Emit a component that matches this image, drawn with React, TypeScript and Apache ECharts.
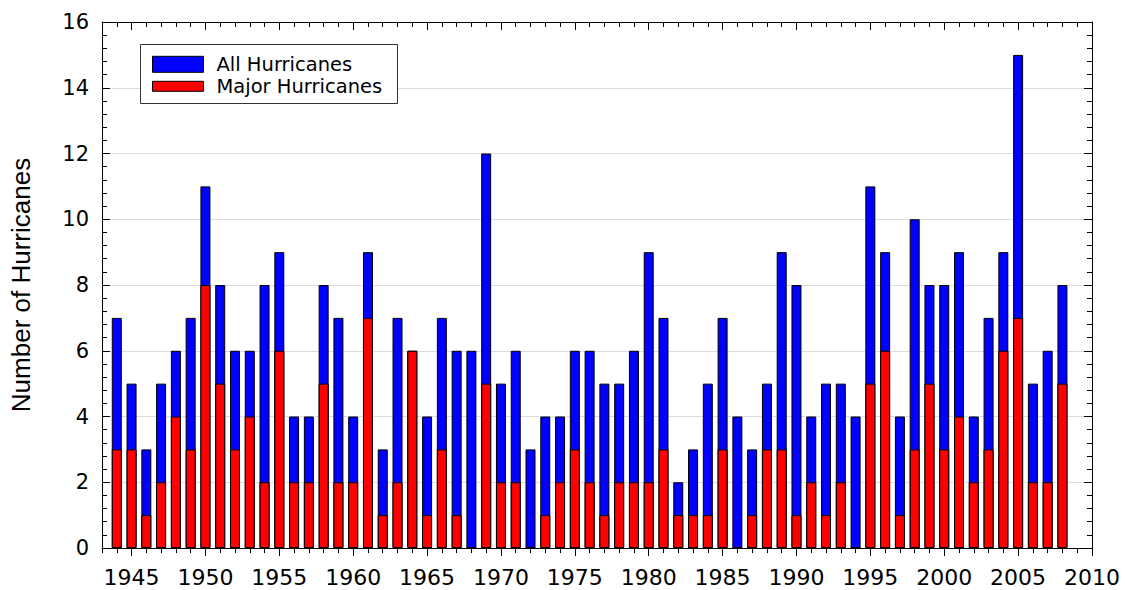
import React, { useEffect, useRef } from "react";
import * as echarts from "echarts";

const years: number[] = [
  1944, 1945, 1946, 1947, 1948, 1949, 1950, 1951, 1952, 1953, 1954, 1955, 1956,
  1957, 1958, 1959, 1960, 1961, 1962, 1963, 1964, 1965, 1966, 1967, 1968, 1969,
  1970, 1971, 1972, 1973, 1974, 1975, 1976, 1977, 1978, 1979, 1980, 1981, 1982,
  1983, 1984, 1985, 1986, 1987, 1988, 1989, 1990, 1991, 1992, 1993, 1994, 1995,
  1996, 1997, 1998, 1999, 2000, 2001, 2002, 2003, 2004, 2005, 2006, 2007, 2008,
];

const allHurricanes: number[] = [
  7, 5, 3, 5, 6, 7, 11, 8, 6, 6, 8, 9, 4,
  4, 8, 7, 4, 9, 3, 7, 6, 4, 7, 6, 6, 12,
  5, 6, 3, 4, 4, 6, 6, 5, 5, 6, 9, 7, 2,
  3, 5, 7, 4, 3, 5, 9, 8, 4, 5, 5, 4, 11,
  9, 4, 10, 8, 8, 9, 4, 7, 9, 15, 5, 6, 8,
];

const majorHurricanes: number[] = [
  3, 3, 1, 2, 4, 3, 8, 5, 3, 4, 2, 6, 2,
  2, 5, 2, 2, 7, 1, 2, 6, 1, 3, 1, 0, 5,
  2, 2, 0, 1, 2, 3, 2, 1, 2, 2, 2, 3, 1,
  1, 1, 3, 0, 1, 3, 3, 1, 2, 1, 2, 0, 5,
  6, 1, 3, 5, 3, 4, 2, 3, 6, 7, 2, 2, 5,
];

const seriesNames: string[] = ["All Hurricanes", "Major Hurricanes"];
const yTitle = "Number of Hurricanes";

export default function App() {
  const ref = useRef<HTMLDivElement>(null);

  useEffect(() => {
    if (!ref.current) return;
    const chart = echarts.init(ref.current, undefined, { renderer: "svg" });

    const labelFont = "DejaVu Sans";
    const xBase = {
      type: "value" as const,
      min: 1943,
      max: 2010,
      splitLine: { show: false },
    };
    const legendText = {
      fontFamily: labelFont,
      fontSize: 19.5,
      lineHeight: 16,
      color: "#000000",
      padding: [0, 0, 0, 8],
    };
    const legendBase = {
      orient: "vertical" as const,
      left: 152,
      padding: 0,
      itemWidth: 51,
      selectedMode: false,
      z: 6,
      textStyle: legendText,
      itemStyle: { borderColor: "#000000", borderWidth: 1 },
    };

    chart.setOption({
      animation: false,
      backgroundColor: "#ffffff",
      grid: { left: 100, right: 33, top: 22, bottom: 42 },
      graphic: [
        {
          type: "rect",
          z: 5,
          shape: { x: 140.5, y: 44.5, width: 257, height: 59 },
          style: { fill: "#ffffff", stroke: "#333333", lineWidth: 1 },
        },
      ],
      legend: [
        {
          ...legendBase,
          top: 54.3,
          itemHeight: 16,
          data: [{ name: seriesNames[0], icon: "rect" }],
        },
        {
          ...legendBase,
          top: 76.3,
          itemHeight: 10,
          data: [{ name: seriesNames[1], icon: "rect" }],
        },
      ],
      xAxis: [
        {
          ...xBase,
          position: "bottom",
          splitNumber: 13,
          axisLine: { show: true, lineStyle: { color: "#000000", width: 1 } },
          axisTick: { show: true, inside: false, length: 8, lineStyle: { color: "#000000" } },
          axisLabel: {
            show: true,
            showMinLabel: false,
            margin: 18,
            fontFamily: labelFont,
            fontSize: 22,
            color: "#000000",
            formatter: (v: number) => String(v),
          },
        },
        {
          ...xBase,
          position: "bottom",
          interval: 1,
          axisLine: { show: false },
          axisTick: { show: true, inside: false, length: 5, lineStyle: { color: "#000000" } },
          axisLabel: { show: false },
        },
        {
          ...xBase,
          position: "top",
          splitNumber: 13,
          axisLine: { show: true, lineStyle: { color: "#000000", width: 1 } },
          axisTick: { show: true, inside: true, length: 8, lineStyle: { color: "#000000" } },
          axisLabel: { show: false },
        },
        {
          ...xBase,
          position: "top",
          interval: 1,
          axisLine: { show: false },
          axisTick: { show: true, inside: true, length: 5, lineStyle: { color: "#000000" } },
          axisLabel: { show: false },
        },
      ],
      yAxis: [
        {
          type: "value",
          position: "left",
          min: 0,
          max: 16,
          interval: 2,
          name: yTitle,
          nameLocation: "middle",
          nameGap: 68,
          nameTextStyle: {
            fontFamily: "Liberation Sans",
            fontSize: 26,
            color: "#000000",
          },
          axisLine: { show: true, lineStyle: { color: "#000000", width: 1 } },
          axisTick: { show: true, inside: true, length: 8, lineStyle: { color: "#000000" } },
          minorTick: { show: true, splitNumber: 5, length: 5, lineStyle: { color: "#000000" } },
          splitLine: { show: true, lineStyle: { color: "#dcdcdc", width: 1 } },
          axisLabel: {
            margin: 13,
            fontFamily: labelFont,
            fontSize: 21,
            color: "#000000",
          },
        },
        {
          type: "value",
          position: "right",
          min: 0,
          max: 16,
          interval: 2,
          axisLine: { show: true, lineStyle: { color: "#000000", width: 1 } },
          axisTick: { show: true, inside: true, length: 8, lineStyle: { color: "#000000" } },
          minorTick: { show: true, splitNumber: 5, length: 5, lineStyle: { color: "#000000" } },
          splitLine: { show: false },
          axisLabel: { show: false },
        },
      ],
      series: [
        {
          name: seriesNames[0],
          type: "bar",
          xAxisIndex: 0,
          yAxisIndex: 0,
          barWidth: 10,
          barGap: "-100%",
          itemStyle: { color: "#0000ff", borderColor: "#000000", borderWidth: 1 },
          data: years.map((y, i) => [y, allHurricanes[i]]),
        },
        {
          name: seriesNames[1],
          type: "bar",
          xAxisIndex: 0,
          yAxisIndex: 0,
          barWidth: 10,
          barGap: "-100%",
          itemStyle: { color: "#ff0000", borderColor: "#000000", borderWidth: 1 },
          data: years.map((y, i) => [y, majorHurricanes[i]]),
        },
      ],
    });

    return () => chart.dispose();
  }, []);

  return (
    <div
      ref={ref}
      style={{ position: "absolute", left: 0, top: 0, width: 1125, height: 590 }}
    />
  );
}
